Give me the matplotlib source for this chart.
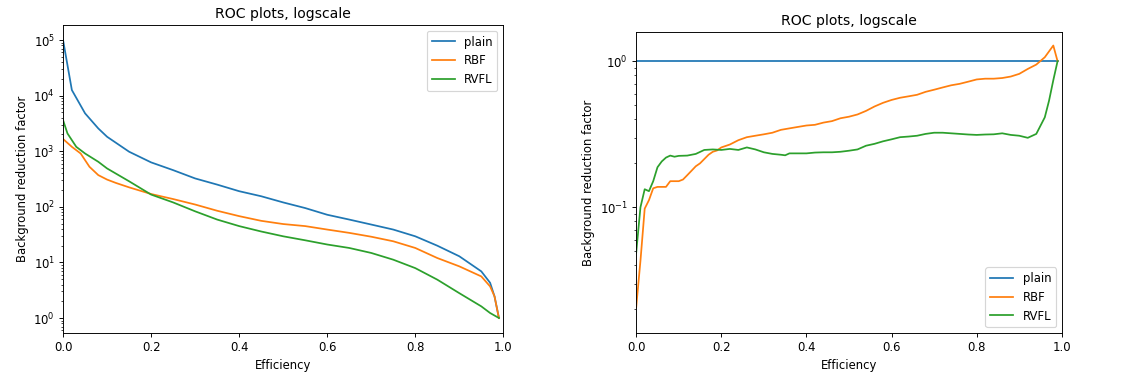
import matplotlib
matplotlib.use("Agg")
import matplotlib.pyplot as plt
import numpy as np

# left panel: background reduction factor vs efficiency
plain_x = [0, 0.02, 0.05, 0.08, 0.1, 0.15, 0.2, 0.25, 0.3, 0.35, 0.4, 0.45, 0.5,
           0.55, 0.6, 0.65, 0.7, 0.75, 0.8, 0.85, 0.9, 0.95, 0.97, 0.98, 0.99]
plain_y = [1e5, 12600, 4800, 2570, 1820, 980, 630, 457, 324, 251, 191, 155, 120,
           95, 72, 59, 48, 39, 29.5, 20, 12.9, 6.9, 4.3, 2.45, 1.0]

rbf_x = [0, 0.02, 0.04, 0.06, 0.08, 0.1, 0.12, 0.15, 0.2, 0.25, 0.3, 0.35, 0.4,
         0.45, 0.5, 0.55, 0.6, 0.65, 0.7, 0.75, 0.8, 0.85, 0.9, 0.95, 0.97, 0.98, 0.99]
rbf_y = [1660, 1200, 910, 525, 372, 309, 269, 224, 170, 138, 110, 85, 68,
         56, 49, 45, 39, 34, 29, 24, 18.2, 12, 8.5, 5.6, 3.7, 2.45, 1.0]

rvfl_x = [0, 0.01, 0.03, 0.05, 0.08, 0.1, 0.15, 0.2, 0.25, 0.3, 0.35, 0.4, 0.45,
          0.5, 0.55, 0.6, 0.65, 0.7, 0.75, 0.8, 0.85, 0.9, 0.95, 0.97, 0.99]
rvfl_y = [3630, 2090, 1200, 910, 646, 490, 288, 166, 120, 83, 59, 45, 36,
          29.5, 25, 21, 18.2, 14.8, 11.2, 7.9, 4.9, 2.8, 1.62, 1.23, 1.0]

# right panel: ratio to plain
ratio_plain_x = [0, 0.99]
ratio_plain_y = [1.0, 1.0]

ratio_rbf_x = [0, 0.01, 0.02, 0.03, 0.04, 0.05, 0.06, 0.07, 0.08, 0.09, 0.10, 0.11,
               0.12, 0.13, 0.14, 0.15, 0.16, 0.17, 0.18, 0.19, 0.2, 0.22, 0.24, 0.26,
               0.28, 0.3, 0.32, 0.34, 0.36, 0.38, 0.4, 0.42, 0.44, 0.46, 0.48, 0.5,
               0.52, 0.54, 0.56, 0.58, 0.6, 0.62, 0.64, 0.66, 0.68, 0.7, 0.72, 0.74,
               0.76, 0.78, 0.8, 0.82, 0.84, 0.86, 0.88, 0.9, 0.92, 0.94, 0.96, 0.98, 0.99]
ratio_rbf_y = [0.0207, 0.043, 0.098, 0.112, 0.135, 0.138, 0.138, 0.138, 0.151, 0.151,
               0.151, 0.155, 0.166, 0.178, 0.191, 0.200, 0.214, 0.229, 0.240, 0.245,
               0.257, 0.269, 0.288, 0.302, 0.309, 0.316, 0.324, 0.339, 0.347, 0.355,
               0.363, 0.367, 0.380, 0.389, 0.407, 0.417, 0.432, 0.457, 0.490, 0.519,
               0.543, 0.562, 0.575, 0.589, 0.617, 0.638, 0.661, 0.684, 0.700, 0.724,
               0.750, 0.759, 0.759, 0.767, 0.785, 0.819, 0.885, 0.948, 1.064, 1.28, 1.0]

ratio_rvfl_x = [0, 0.01, 0.02, 0.03, 0.04, 0.05, 0.06, 0.07, 0.08, 0.09, 0.1, 0.12,
                0.14, 0.16, 0.18, 0.2, 0.22, 0.24, 0.26, 0.28, 0.3, 0.32, 0.34, 0.35,
                0.36, 0.38, 0.4, 0.42, 0.44, 0.46, 0.48, 0.5, 0.52, 0.54, 0.56, 0.58,
                0.6, 0.62, 0.64, 0.66, 0.68, 0.7, 0.72, 0.74, 0.76, 0.78, 0.8, 0.82,
                0.84, 0.86, 0.88, 0.9, 0.92, 0.94, 0.96, 0.97, 0.98, 0.99]
ratio_rvfl_y = [0.049, 0.100, 0.133, 0.129, 0.151, 0.188, 0.206, 0.219, 0.226, 0.222,
                0.225, 0.226, 0.232, 0.247, 0.249, 0.247, 0.251, 0.247, 0.257, 0.249,
                0.238, 0.232, 0.229, 0.227, 0.234, 0.234, 0.234, 0.237, 0.238, 0.238,
                0.240, 0.244, 0.249, 0.264, 0.272, 0.283, 0.292, 0.302, 0.305, 0.309,
                0.318, 0.324, 0.324, 0.321, 0.318, 0.315, 0.313, 0.315, 0.316, 0.321,
                0.313, 0.309, 0.299, 0.318, 0.413, 0.537, 0.741, 1.0]

labels = ["plain", "RBF", "RVFL"]

DPI = 84
fig = plt.figure(figsize=(1126 / DPI, 385 / DPI), dpi=DPI)
ax1 = fig.add_axes([0.056, 0.135, 0.391, 0.800])
ax2 = fig.add_axes([0.565, 0.135, 0.378, 0.782])

ax1.plot(plain_x, plain_y, label=labels[0])
ax1.plot(rbf_x, rbf_y, label=labels[1])
ax1.plot(rvfl_x, rvfl_y, label=labels[2])
ax1.set_yscale("log")
ax1.set_xlim(0, 1)
ax1.set_ylim(10 ** -0.27, 10 ** 5.27)
ax1.set_title("ROC plots, logscale")
ax1.set_xlabel("Efficiency")
ax1.set_ylabel("Background reduction factor")
ax1.legend(loc="upper right")

ax2.plot(ratio_plain_x, ratio_plain_y, label=labels[0])
ax2.plot(ratio_rbf_x, ratio_rbf_y, label=labels[1])
ax2.plot(ratio_rvfl_x, ratio_rvfl_y, label=labels[2])
ax2.set_yscale("log")
ax2.set_xlim(0, 1)
ax2.set_ylim(10 ** -1.86, 10 ** 0.2)
ax2.set_title("ROC plots, logscale")
ax2.set_xlabel("Efficiency")
ax2.set_ylabel("Background reduction factor")
ax2.legend(loc="lower right")

fig.savefig("out.png", dpi=DPI)
